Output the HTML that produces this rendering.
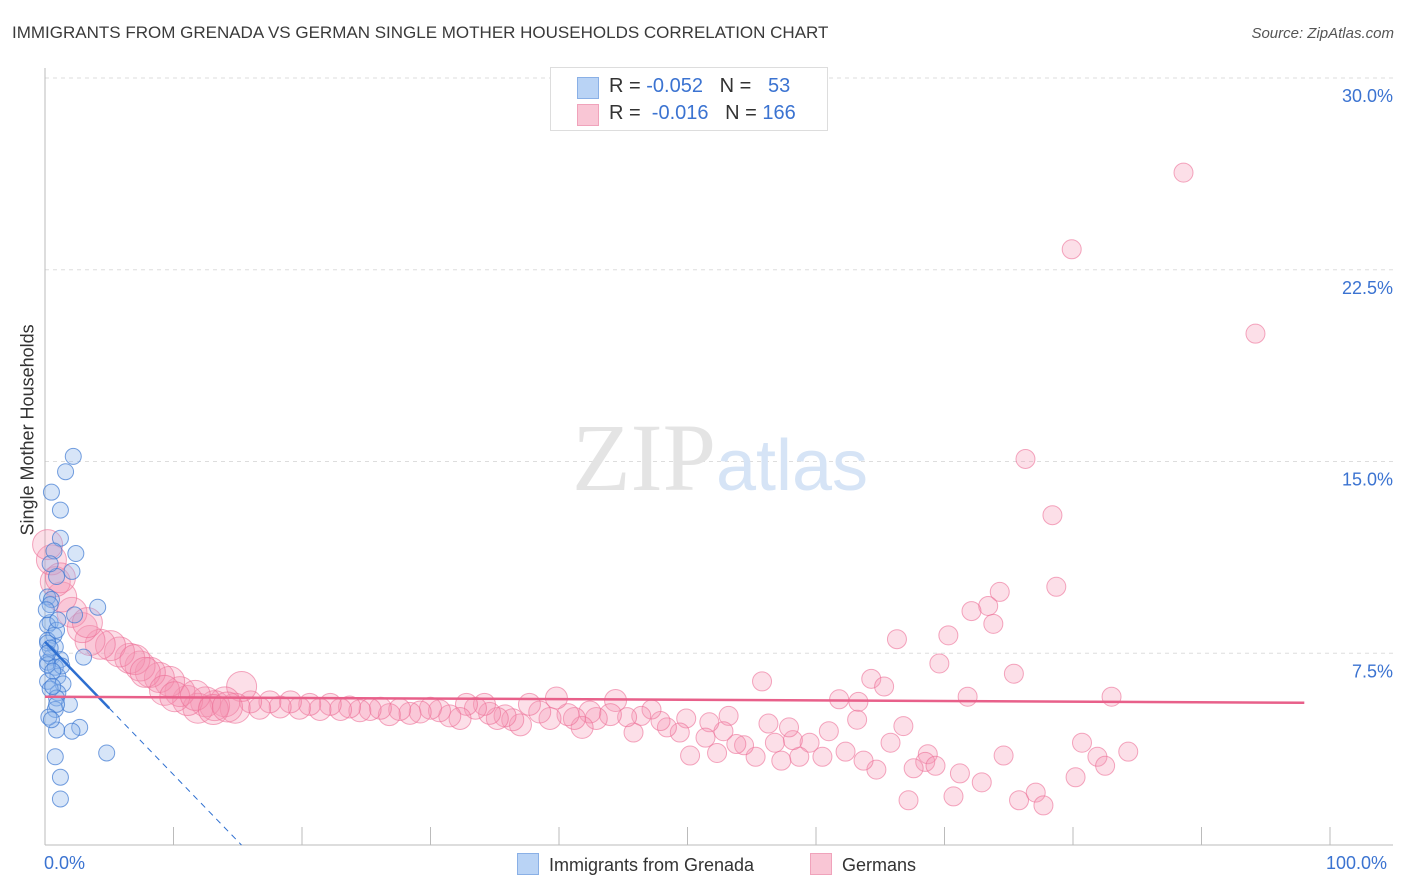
<!DOCTYPE html>
<html><head><meta charset="utf-8"><style>
body{margin:0;background:#fff;font-family:"Liberation Sans",sans-serif;}
#wrap{position:relative;width:1406px;height:892px;overflow:hidden;}
.t{position:absolute;white-space:nowrap;}
</style></head><body>
<div id="wrap">
<div class="t" style="left:12px;top:23px;font-size:17px;color:#3a3a3a;">IMMIGRANTS FROM GRENADA VS GERMAN SINGLE MOTHER HOUSEHOLDS CORRELATION CHART</div>
<div class="t" style="right:12px;top:25px;font-size:15px;color:#555;font-style:italic;">Source: ZipAtlas.com</div>
<svg id="svg" width="1406" height="892" style="position:absolute;left:0;top:0"></svg>
<div class="t" style="left:550px;top:67px;width:276px;height:62px;border:1px solid #ddd;background:#fff;">
 <div style="position:absolute;left:26px;top:9px;width:20px;height:20px;background:#b9d3f5;border:1px solid #8ab0e6;"></div>
 <div style="position:absolute;left:26px;top:36px;width:20px;height:20px;background:#f9c6d5;border:1px solid #f0a3bb;"></div>
 <div class="t" style="left:58px;top:7px;font-size:20px;color:#333;">R = <span style="color:#3b73d1">-0.052</span>&nbsp;&nbsp;&nbsp;N = &nbsp;&nbsp;<span style="color:#3b73d1">53</span></div>
 <div class="t" style="left:58px;top:34px;font-size:20px;color:#333;">R = &nbsp;<span style="color:#3b73d1">-0.016</span>&nbsp;&nbsp;&nbsp;N = <span style="color:#3b73d1">166</span></div>
</div>
<div class="t" style="left:-52px;top:445px;font-size:18px;color:#333;transform:rotate(-90deg);width:160px;text-align:center;">Single Mother Households</div>
<div class="t" style="left:44px;top:853px;font-size:18px;color:#3b73d1;">0.0%</div>
<div class="t" style="left:1326px;top:853px;font-size:18px;color:#3b73d1;">100.0%</div>
<div class="t" style="left:517px;top:853px;font-size:18px;color:#333;"><span style="display:inline-block;width:20px;height:20px;background:#b9d3f5;border:1px solid #8ab0e6;vertical-align:-4px;margin-right:10px;"></span>Immigrants from Grenada</div>
<div class="t" style="left:810px;top:853px;font-size:18px;color:#333;"><span style="display:inline-block;width:20px;height:20px;background:#f9c6d5;border:1px solid #f0a3bb;vertical-align:-4px;margin-right:10px;"></span>Germans</div>
</div>
<script>
const yTicks=[7.5,15,22.5,30];
const yTickLabels=["7.5%","15.0%","22.5%","30.0%"];
const blueX=[2.2,1.6,0.5,1.2,1.2,2.4,0.7,2.1,0.9,0.4,0.2,0.5,4.1,2.3,0.4,0.2,0.7,0.2,0.8,3.0,0.5,1.2,0.2,0.8,0.2,1.0,0.2,1.4,1.0,0.4,0.9,0.8,1.9,2.7,2.1,0.9,0.8,1.2,1.2,4.8,0.2,0.4,0.9,1.3,0.6,0.9,0.2,0.4,0.1,1.0,0.6,0.3,0.5];
const blueY=[15.2,14.6,13.8,13.1,12.0,11.4,11.5,10.7,10.5,11.0,9.7,9.6,9.3,9.0,8.7,8.6,8.2,8.0,7.75,7.35,7.35,7.25,7.15,6.95,7.05,6.6,6.4,6.3,5.95,6.1,5.75,5.3,5.5,4.6,4.45,4.5,3.45,2.65,1.8,3.6,7.9,7.7,8.4,7.0,6.8,5.5,7.5,9.4,9.2,8.8,6.2,5.0,4.9];
const pinkX=[88.6,79.9,94.2,76.3,78.4,78.7,74.3,73.4,72.1,73.8,70.3,66.3,69.6,75.4,64.3,65.3,55.8,71.8,83.0,61.8,63.3,63.2,66.8,80.7,84.3,81.9,82.5,80.2,74.6,68.7,68.5,69.3,67.6,71.2,72.9,70.7,67.2,75.8,77.1,77.7,65.8,64.7,63.7,62.3,60.5,61,59.5,58.7,58.2,57.9,56.8,56.3,57.3,55.3,54.4,53.8,53.2,52.8,52.3,51.7,51.4,50.2,49.9,49.4,48.4,47.9,47.2,46.4,45.8,45.3,44.4,44,42.9,42.4,41.8,41.2,40.7,39.8,39.3,38.5,37.7,37.0,36.4,35.8,35.2,34.6,34.2,33.5,32.8,32.3,31.5,30.7,30,29.2,28.4,27.6,26.8,26.1,25.3,24.5,23.7,23,22.2,21.4,20.6,19.8,19.1,18.3,17.5,16.7,16,15.3,14.8,14,13.2,12.5,11.9,11.1,10.5,9.7,8.9,8.2,7.4,6.6,5.8,5.1,4.3,3.5,2.9,2.1,1.3,0.8,0.5,0.2,1.2,3.3,7.0,7.8,9.3,10.1,11.7,13.1,14.2];
const pinkY=[26.3,23.3,20.0,15.1,12.9,10.1,9.9,9.35,9.15,8.65,8.2,8.05,7.1,6.7,6.5,6.2,6.4,5.8,5.8,5.7,5.6,4.9,4.65,4.0,3.65,3.45,3.1,2.65,3.5,3.55,3.25,3.1,3.0,2.8,2.45,1.9,1.75,1.75,2.05,1.55,4.0,2.95,3.3,3.65,3.45,4.45,4.0,3.45,4.1,4.6,4.0,4.75,3.3,3.45,3.9,3.95,5.05,4.45,3.6,4.8,4.2,3.5,4.95,4.4,4.6,4.85,5.3,5.05,4.4,5.0,5.65,5.1,4.95,5.2,4.6,4.95,5.1,5.75,4.95,5.2,5.5,4.7,4.9,5.05,4.95,5.15,5.5,5.35,5.5,4.95,5.05,5.25,5.35,5.2,5.15,5.3,5.1,5.35,5.3,5.25,5.4,5.3,5.5,5.3,5.5,5.35,5.6,5.4,5.6,5.35,5.6,6.2,5.35,5.6,5.45,5.6,5.35,5.65,6.0,6.4,6.55,6.75,7.0,7.3,7.55,7.8,7.85,8.0,8.5,9.1,9.7,10.3,11.15,11.75,10.45,8.7,7.25,6.75,6.05,5.8,5.85,5.3,5.4];
const blueTrend=[7.95,-0.052]; // intercept, slope per %
const pinkTrend=[5.8,-0.0024];
const X0=45,X1=1330,Y0=845,Y1=78;
const sx=v=>X0+(X1-X0)*v/100;
const sy=v=>Y0-(Y0-Y1)*v/30;
const svg=document.getElementById('svg');
const NS='http://www.w3.org/2000/svg';
function mk(t,a){const e=document.createElementNS(NS,t);for(const k in a)e.setAttribute(k,a[k]);svg.appendChild(e);return e;}
// grid
yTicks.forEach((v,i)=>{
 const g=mk('line',{x1:X0,x2:1393,y1:sy(v),y2:sy(v),stroke:'#ddd','stroke-dasharray':'4,4'});
 
 
 const t=mk('text',{x:1393,y:sy(v)+24,'text-anchor':'end','font-size':18,fill:'#3b73d1','font-family':'Liberation Sans'});
 t.textContent=yTickLabels[i];
 
 
});
const ax=mk('line',{x1:X0,x2:X0,y1:68,y2:Y0,stroke:'#bbb'});


const bx=mk('line',{x1:X0,x2:1393,y1:Y0,y2:Y0,stroke:'#bbb'});


for(let i=0;i<=10;i++){
 const tk=mk('line',{x1:sx(i*10),x2:sx(i*10),y1:Y0,y2:Y0-18,stroke:'#bbb'});
 
 
}
// watermark
const wm=mk('text',{x:720,y:490,'text-anchor':'middle','font-size':96,'font-family':'Liberation Serif',fill:'#e4e4e4'});
wm.innerHTML='ZIP<tspan fill="#d6e4f6" font-family="Liberation Sans" font-size="72">atlas</tspan>';


// pink points
pinkX.forEach((x,i)=>{
 const r=x<16?15:x<45?11:9.5;
 const c=mk('circle',{cx:sx(x),cy:sy(pinkY[i]),r:r,fill:'rgba(244,150,180,0.3)',stroke:'rgba(236,110,150,0.6)','stroke-width':1});
 
 
});
blueX.forEach((x,i)=>{
 const c=mk('circle',{cx:sx(x),cy:sy(blueY[i]),r:8,fill:'rgba(140,180,235,0.35)',stroke:'rgba(60,120,210,0.7)','stroke-width':1});
 
 
});
// trends
const bEnd=-blueTrend[0]/blueTrend[1];
const bl1=mk('line',{x1:sx(0),y1:sy(blueTrend[0]),x2:sx(5),y2:sy(blueTrend[0]+blueTrend[1]*5*10),stroke:'#2e6fd0','stroke-width':2.5});


const bl2=mk('line',{x1:sx(5),y1:sy(blueTrend[0]+blueTrend[1]*50),x2:sx(bEnd/10),y2:sy(0),stroke:'#2e6fd0','stroke-width':1,'stroke-dasharray':'6,5'});


const pl=mk('line',{x1:sx(0),y1:sy(pinkTrend[0]),x2:sx(98),y2:sy(pinkTrend[0]+pinkTrend[1]*98),stroke:'#e8608a','stroke-width':2.5});


</script>
</body></html>
